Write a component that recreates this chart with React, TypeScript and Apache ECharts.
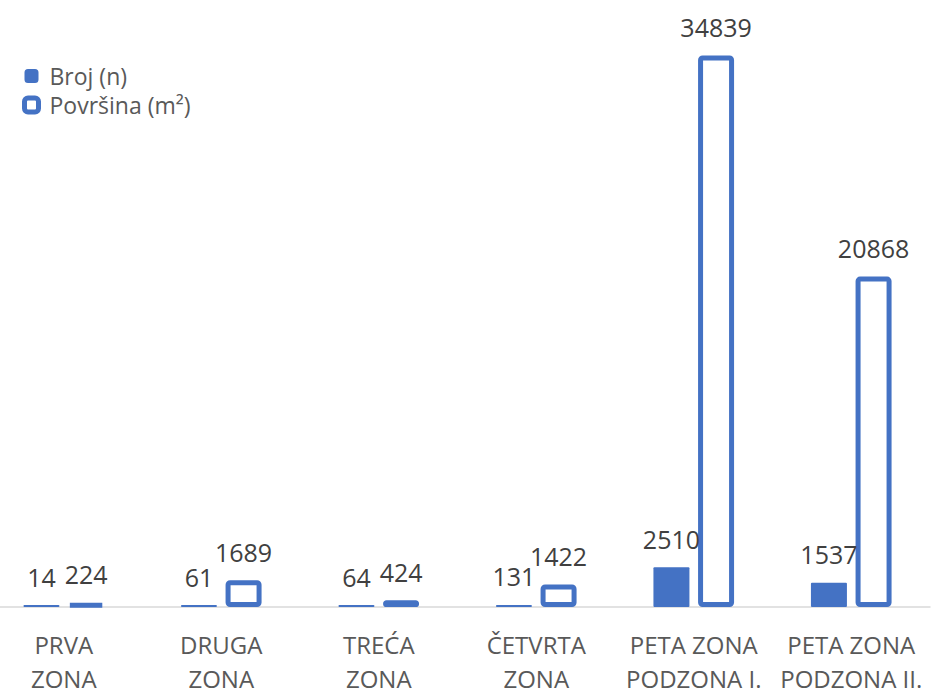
import React, { useEffect, useRef } from "react";
import * as echarts from "echarts";

const categories = [
  "PRVA\nZONA",
  "DRUGA\nZONA",
  "TREĆA\nZONA",
  "ČETVRTA\nZONA",
  "PETA ZONA\nPODZONA I.",
  "PETA ZONA\nPODZONA II.",
];
const brojValues = [14, 61, 64, 131, 2510, 1537];
const povrsinaValues = [224, 1689, 424, 1422, 34839, 20868];
const seriesNames = ["Broj (n)", "Površina (m²)"];

const BLUE = "#4472C4";
const FONT = "Open Sans";
const SHIFT = 15;

export default function App() {
  const ref = useRef<HTMLDivElement>(null);
  useEffect(() => {
    if (!ref.current) return;
    const chart = echarts.init(ref.current, undefined, { renderer: "svg" });
    chart.setOption({
      animation: false,
      backgroundColor: "#ffffff",
      textStyle: { fontFamily: FONT },
      legend: {
        orient: "vertical",
        left: 17 + SHIFT,
        top: 59,
        itemWidth: 14,
        itemHeight: 14,
        itemGap: 5,
        icon: "roundRect",
        textStyle: {
          fontFamily: FONT,
          fontSize: 23,
          color: "#595959",
          lineHeight: 24,
          padding: [0, 0, 0, 6],
        },
        data: [
          { name: seriesNames[0], itemStyle: { color: BLUE } },
          {
            name: seriesNames[1],
            itemStyle: { color: "#ffffff", borderColor: BLUE, borderWidth: 5 },
          },
        ],
      },
      grid: { left: 0, right: 2, top: 37, bottom: 83 },
      xAxis: {
        type: "category",
        data: categories,
        axisLine: { show: true, lineStyle: { color: "#d9d9d9", width: 1.5 } },
        axisTick: { show: false },
        axisLabel: {
          interval: 0,
          fontFamily: FONT,
          fontSize: 24,
          color: "#595959",
          lineHeight: 34,
          margin: 20,
        },
      },
      yAxis: {
        type: "value",
        min: 0,
        max: 36000,
        show: false,
        splitLine: { show: false },
      },
      series: [
        {
          name: seriesNames[0],
          type: "bar",
          data: brojValues,
          barWidth: 36,
          barGap: "24%",
          barMinHeight: 2,
          itemStyle: { color: BLUE, borderRadius: 1 },
          label: {
            show: true,
            position: "top",
            distance: 16,
            fontFamily: FONT,
            fontSize: 25,
            color: "#404040",
          },
        },
        {
          name: seriesNames[1],
          type: "bar",
          data: povrsinaValues,
          barWidth: 36,
          barMinHeight: 2,
          itemStyle: {
            color: "#ffffff",
            borderColor: BLUE,
            borderWidth: 5,
            borderRadius: 2,
          },
          label: {
            show: true,
            position: "top",
            distance: 16,
            fontFamily: FONT,
            fontSize: 25,
            color: "#404040",
          },
        },
      ],
    });
    return () => chart.dispose();
  }, []);
  return (
    <div
      ref={ref}
      style={{
        position: "fixed",
        left: -SHIFT,
        top: 0,
        width: 932 + SHIFT,
        height: 695,
      }}
    />
  );
}
